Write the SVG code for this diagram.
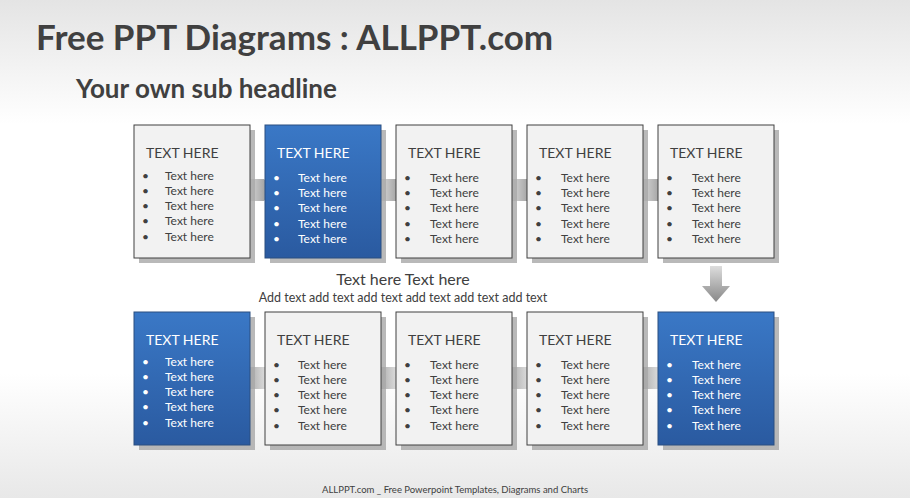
<svg xmlns="http://www.w3.org/2000/svg" width="910" height="498" viewBox="0 0 910 498">
<defs>
<linearGradient id="bg" x1="0" y1="0" x2="0" y2="1"><stop offset="0" stop-color="#e4e4e4"/><stop offset="0.25" stop-color="#ffffff"/><stop offset="0.75" stop-color="#ffffff"/><stop offset="1" stop-color="#e8e8e8"/></linearGradient>
<linearGradient id="blue" x1="0" y1="0" x2="0" y2="1"><stop offset="0" stop-color="#3a78c6"/><stop offset="1" stop-color="#2a5aa0"/></linearGradient>
<linearGradient id="arR" x1="0" y1="0" x2="1" y2="0"><stop offset="0" stop-color="#999" stop-opacity="0.2"/><stop offset="1" stop-color="#777" stop-opacity="0.9"/></linearGradient>
<linearGradient id="arL" x1="1" y1="0" x2="0" y2="0"><stop offset="0" stop-color="#999" stop-opacity="0.2"/><stop offset="1" stop-color="#777" stop-opacity="0.9"/></linearGradient>
<linearGradient id="arD" x1="0" y1="0" x2="0" y2="1"><stop offset="0" stop-color="#ddd"/><stop offset="1" stop-color="#888"/></linearGradient>
<g id="arrowR"><path d="M0,-11 L24,-11 L34,0 L24,11 L0,11 L6,0 Z" fill="url(#arR)"/></g>
<g id="arrowL"><path d="M0,-11 L-24,-11 L-34,0 L-24,11 L0,11 L-6,0 Z" fill="url(#arL)"/></g>
</defs>
<style>
.sh{fill:#a8a8a8;opacity:.8}
.w{fill:#f2f2f2;stroke:#404040;stroke-width:1}
.b{fill:url(#blue);stroke:#2a4f80;stroke-width:1}
text{font-family:Lato,"Open Sans",sans-serif}
.h{font-size:14px}
.t{font-size:12px}
.dk{fill:#404040}
.lt{fill:#ffffff}
</style>
<rect width="910" height="498" fill="url(#bg)"/>
<text x="36" y="50" font-size="35" font-weight="bold" fill="#404040">Free PPT Diagrams : ALLPPT.com</text>
<text x="76" y="98" font-size="26" font-weight="bold" fill="#404040">Your own sub headline</text>
<g id="connectors">
<use href="#arrowR" x="240" y="190"/>
<use href="#arrowR" x="372" y="190"/>
<use href="#arrowR" x="503" y="190"/>
<use href="#arrowR" x="634" y="190"/>
<use href="#arrowL" x="272" y="378"/>
<use href="#arrowL" x="403" y="378"/>
<use href="#arrowL" x="534" y="378"/>
<use href="#arrowL" x="665" y="378"/>
<path d="M710,266 L722,266 L722,286 L730,286 L716,302 L702,286 L710,286 Z" fill="url(#arD)"/>
</g>
<g id="n1"><rect class="sh" x="139" y="130" width="116" height="133"/><rect class="w" x="134" y="125" width="116" height="133"/>
<g class="dk"><text class="h" x="146" y="158">TEXT HERE</text><g class="t"><text x="142" y="180">•</text><text x="165" y="180">Text here</text><text x="142" y="195">•</text><text x="165" y="195">Text here</text><text x="142" y="210">•</text><text x="165" y="210">Text here</text><text x="142" y="225">•</text><text x="165" y="225">Text here</text><text x="142" y="241">•</text><text x="165" y="241">Text here</text></g></g></g>
<g id="n2"><rect class="sh" x="270" y="130" width="116" height="133"/><rect class="b" x="265" y="125" width="116" height="133"/>
<g class="lt"><text class="h" x="277" y="158">TEXT HERE</text><g class="t"><text x="273" y="182">•</text><text x="298" y="182">Text here</text><text x="273" y="197">•</text><text x="298" y="197">Text here</text><text x="273" y="212">•</text><text x="298" y="212">Text here</text><text x="273" y="228">•</text><text x="298" y="228">Text here</text><text x="273" y="243">•</text><text x="298" y="243">Text here</text></g></g></g>
<g id="n3"><rect class="sh" x="401" y="130" width="116" height="133"/><rect class="w" x="396" y="125" width="116" height="133"/>
<g class="dk"><text class="h" x="408" y="158">TEXT HERE</text><g class="t"><text x="404" y="182">•</text><text x="430" y="182">Text here</text><text x="404" y="197">•</text><text x="430" y="197">Text here</text><text x="404" y="212">•</text><text x="430" y="212">Text here</text><text x="404" y="228">•</text><text x="430" y="228">Text here</text><text x="404" y="243">•</text><text x="430" y="243">Text here</text></g></g></g>
<g id="n4"><rect class="sh" x="532" y="130" width="116" height="133"/><rect class="w" x="527" y="125" width="116" height="133"/>
<g class="dk"><text class="h" x="539" y="158">TEXT HERE</text><g class="t"><text x="535" y="182">•</text><text x="561" y="182">Text here</text><text x="535" y="197">•</text><text x="561" y="197">Text here</text><text x="535" y="212">•</text><text x="561" y="212">Text here</text><text x="535" y="228">•</text><text x="561" y="228">Text here</text><text x="535" y="243">•</text><text x="561" y="243">Text here</text></g></g></g>
<g id="n5"><rect class="sh" x="663" y="130" width="116" height="133"/><rect class="w" x="658" y="125" width="116" height="133"/>
<g class="dk"><text class="h" x="670" y="158">TEXT HERE</text><g class="t"><text x="666" y="182">•</text><text x="692" y="182">Text here</text><text x="666" y="197">•</text><text x="692" y="197">Text here</text><text x="666" y="212">•</text><text x="692" y="212">Text here</text><text x="666" y="228">•</text><text x="692" y="228">Text here</text><text x="666" y="243">•</text><text x="692" y="243">Text here</text></g></g></g>
<g id="caption"><text x="403" y="285" font-size="16" fill="#404040" text-anchor="middle">Text here Text here</text><text x="403" y="302" font-size="12.5" fill="#404040" text-anchor="middle">Add text add text add text add text add text add text</text></g>
<g id="n6"><rect class="sh" x="139" y="317" width="116" height="133"/><rect class="b" x="134" y="312" width="116" height="133"/>
<g class="lt"><text class="h" x="146" y="345">TEXT HERE</text><g class="t"><text x="142" y="366">•</text><text x="165" y="366">Text here</text><text x="142" y="381">•</text><text x="165" y="381">Text here</text><text x="142" y="396">•</text><text x="165" y="396">Text here</text><text x="142" y="411">•</text><text x="165" y="411">Text here</text><text x="142" y="427">•</text><text x="165" y="427">Text here</text></g></g></g>
<g id="n7"><rect class="sh" x="270" y="317" width="116" height="133"/><rect class="w" x="265" y="312" width="116" height="133"/>
<g class="dk"><text class="h" x="277" y="345">TEXT HERE</text><g class="t"><text x="273" y="369">•</text><text x="298" y="369">Text here</text><text x="273" y="384">•</text><text x="298" y="384">Text here</text><text x="273" y="399">•</text><text x="298" y="399">Text here</text><text x="273" y="414">•</text><text x="298" y="414">Text here</text><text x="273" y="430">•</text><text x="298" y="430">Text here</text></g></g></g>
<g id="n8"><rect class="sh" x="401" y="317" width="116" height="133"/><rect class="w" x="396" y="312" width="116" height="133"/>
<g class="dk"><text class="h" x="408" y="345">TEXT HERE</text><g class="t"><text x="404" y="369">•</text><text x="430" y="369">Text here</text><text x="404" y="384">•</text><text x="430" y="384">Text here</text><text x="404" y="399">•</text><text x="430" y="399">Text here</text><text x="404" y="414">•</text><text x="430" y="414">Text here</text><text x="404" y="430">•</text><text x="430" y="430">Text here</text></g></g></g>
<g id="n9"><rect class="sh" x="532" y="317" width="116" height="133"/><rect class="w" x="527" y="312" width="116" height="133"/>
<g class="dk"><text class="h" x="539" y="345">TEXT HERE</text><g class="t"><text x="535" y="369">•</text><text x="561" y="369">Text here</text><text x="535" y="384">•</text><text x="561" y="384">Text here</text><text x="535" y="399">•</text><text x="561" y="399">Text here</text><text x="535" y="414">•</text><text x="561" y="414">Text here</text><text x="535" y="430">•</text><text x="561" y="430">Text here</text></g></g></g>
<g id="n10"><rect class="sh" x="663" y="317" width="116" height="133"/><rect class="b" x="658" y="312" width="116" height="133"/>
<g class="lt"><text class="h" x="670" y="345">TEXT HERE</text><g class="t"><text x="666" y="369">•</text><text x="692" y="369">Text here</text><text x="666" y="384">•</text><text x="692" y="384">Text here</text><text x="666" y="399">•</text><text x="692" y="399">Text here</text><text x="666" y="414">•</text><text x="692" y="414">Text here</text><text x="666" y="430">•</text><text x="692" y="430">Text here</text></g></g></g>
<text x="455" y="493" font-size="9.5" fill="#404040" text-anchor="middle">ALLPPT.com _ Free Powerpoint Templates, Diagrams and Charts</text>
</svg>
